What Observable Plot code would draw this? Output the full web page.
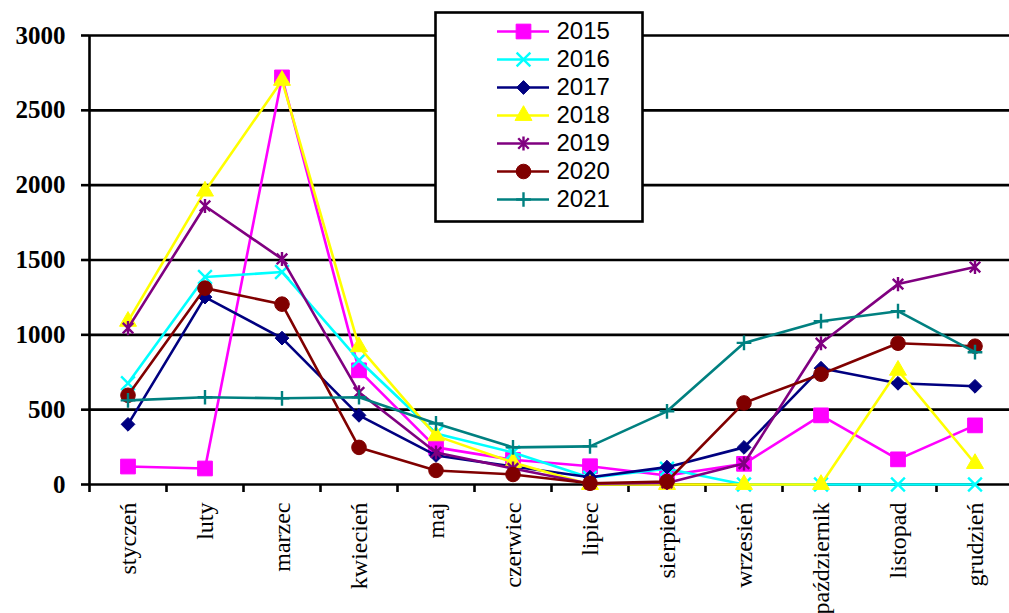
<!DOCTYPE html>
<html><head><meta charset="utf-8">
<script src="https://cdn.jsdelivr.net/npm/d3@7"></script>
<script src="https://cdn.jsdelivr.net/npm/@observablehq/plot@0.6"></script>
<style>
html,body{margin:0;padding:0;overflow:hidden;background:#fff;}
#wrap{position:relative;width:1009px;height:613px;overflow:hidden;}
#chart{position:absolute;left:0;top:0;}
#legend{position:absolute;left:435px;top:12px;}
#chart svg, #chart svg text{font-family:"Liberation Serif","Times New Roman",serif !important;}
#legend svg, #legend svg text{font-family:"Liberation Sans",Arial,sans-serif !important;}
</style></head><body><div id="wrap"><div id="chart"></div><div id="legend"></div></div>
<script>
// ---- data ----
const months = ["styczeń","luty","marzec","kwiecień","maj","czerwiec","lipiec","sierpień","wrzesień","październik","listopad","grudzień"];
const years = ["2015","2016","2017","2018","2019","2020","2021"];
const v2015 = [120, 107, 2720, 763, 248, 165, 122, 60, 138, 462, 168, 395];
const v2016 = [676, 1386, 1420, 830, 341, 214, 45, 105, 0, 0, 0, 0];
const v2017 = [402, 1252, 978, 462, 194, 120, 49, 116, 248, 777, 676, 656];
const v2018 = [1090, 1960, 2700, 920, 325, 147, 0, 0, 0, 0, 763, 140];
const v2019 = [1045, 1861, 1507, 616, 214, 107, 5, 10, 140, 944, 1339, 1453];
const v2020 = [596, 1312, 1205, 248, 94, 67, 8, 20, 545, 737, 944, 924];
const v2021 = [562, 583, 576, 583, 408, 248, 255, 489, 946, 1091, 1158, 884];
const yTicks = [0, 500, 1000, 1500, 2000, 2500, 3000];

const seriesValues = [v2015, v2016, v2017, v2018, v2019, v2020, v2021];
const data = years.flatMap((year, si) => seriesValues[si].map((value, i) => ({year, month: i, value})));

// ---- styles ----
const star = {draw(ctx, size) {
  const r = Math.sqrt(size / Math.PI) * 0.95;
  const d = r * 0.75;
  ctx.moveTo(-d, -d); ctx.lineTo(d, d);
  ctx.moveTo(-d, d); ctx.lineTo(d, -d);
  ctx.moveTo(0, -r); ctx.lineTo(0, r);
}};
const styles = {
  "2015": {color: "#FF00FF", symbol: "square", r: 8.3, filled: true},
  "2016": {color: "#00FFFF", symbol: "times", r: 6.3, filled: false},
  "2017": {color: "#000080", symbol: "diamond2", r: 6.2, filled: true},
  "2018": {color: "#FFFF00", symbol: "triangle", r: 6.3, filled: true},
  "2019": {color: "#800080", symbol: star, r: 7.4, filled: false},
  "2020": {color: "#800000", symbol: "circle", r: 7.3, filled: true},
  "2021": {color: "#008080", symbol: "plus", r: 4.8, filled: false}
};
const serif = "Liberation Serif";
const sans = "Liberation Sans";

const centers = months.map((m, i) => i + 0.5);
const bounds = d3.range(months.length + 1);

const seriesMarks = years.flatMap(year => {
  const s = styles[year];
  const rows = data.filter(d => d.year === year);
  return [
    Plot.line(rows, {x: d => d.month + 0.5, y: "value", stroke: s.color, strokeWidth: 2.6}),
    Plot.dot(rows, {x: d => d.month + 0.5, y: "value", symbol: s.symbol, r: s.r,
      fill: s.filled ? s.color : "none", stroke: s.color, strokeWidth: s.filled ? 1 : 2.4})
  ];
});

const chart = Plot.plot({
  width: 1013, height: 613,
  marginLeft: 89, marginRight: 0, marginTop: 35, marginBottom: 129,
  x: {domain: [0, 12]},
  y: {domain: [0, 3000]},
  style: {fontFamily: serif, color: "#000", background: "transparent", maxWidth: "none", overflow: "visible"},
  marks: [
    Plot.ruleY(yTicks, {stroke: "#000", strokeWidth: 2.6}),
    Plot.ruleX([0], {stroke: "#000", strokeWidth: 2.6}),
    Plot.axisY({ticks: yTicks, tickFormat: d => String(d), tickSize: 8, tickPadding: 16, fontSize: 25, fontWeight: "bold", fontFamily: serif, label: null, stroke: "#000", strokeWidth: 2.6, strokeOpacity: 1}),
    Plot.axisX({ticks: bounds, tickSize: 8, tickFormat: () => "", label: null, stroke: "#000", strokeWidth: 2.6, strokeOpacity: 1}),
    Plot.axisX({ticks: centers, tickSize: 0, tickPadding: 18, tickRotate: -90, fontSize: 24, fontFamily: serif, label: null,
      tickFormat: d => months[Math.round(d - 0.5)]}),
    ...seriesMarks
  ]
});
document.getElementById("chart").appendChild(chart);

const legend = Plot.plot({
  width: 207, height: 209,
  marginLeft: 0, marginRight: 0, marginTop: 0, marginBottom: 0,
  x: {domain: [0, 207], range: [0, 207], axis: null},
  y: {type: "point", domain: years, range: [19, 187], padding: 0, axis: null},
  style: {fontFamily: sans, color: "#000", background: "transparent", maxWidth: "none", overflow: "visible"},
  marks: [
    Plot.frame({stroke: "#000", strokeWidth: 2.6, fill: "#fff"}),
    ...years.flatMap(year => {
      const s = styles[year];
      return [
        Plot.ruleY([year], {y: d => d, x1: 62, x2: 114, stroke: s.color, strokeWidth: 2.6}),
        Plot.dot([year], {y: d => d, x: 88, symbol: s.symbol, r: s.r,
          fill: s.filled ? s.color : "none", stroke: s.color, strokeWidth: s.filled ? 1 : 2.4})
      ];
    }),
    Plot.text(years, {y: d => d, x: 121, text: d => d, textAnchor: "start", fontSize: 24, fontFamily: sans, fill: "#000"})
  ]
});
document.getElementById("legend").appendChild(legend);
</script>
</body></html>
